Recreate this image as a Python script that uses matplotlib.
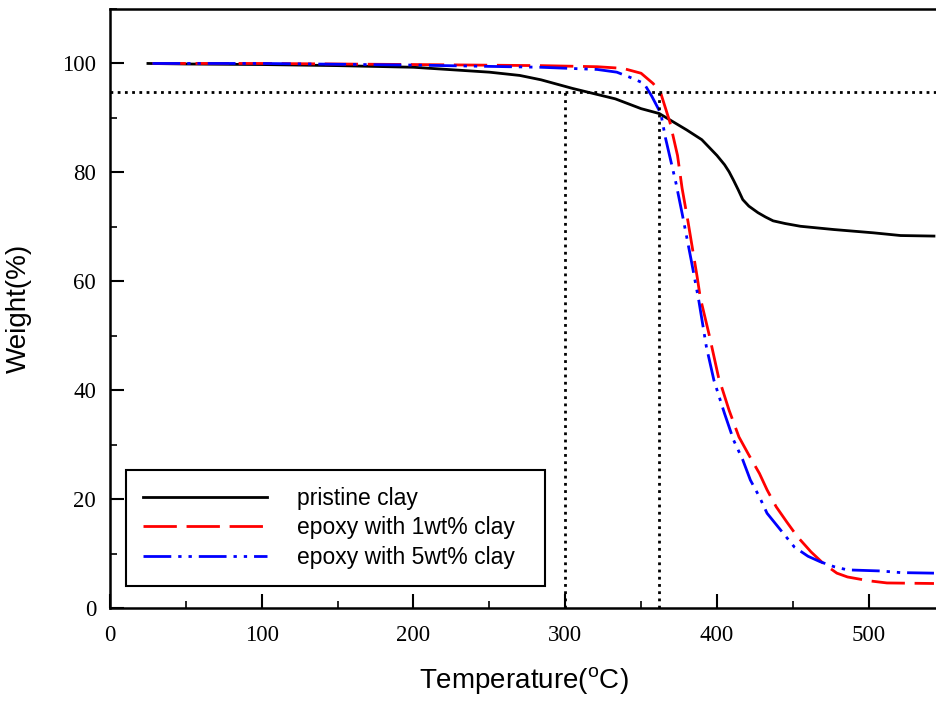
import numpy as np
import matplotlib
matplotlib.use("Agg")
import matplotlib.pyplot as plt
from matplotlib.ticker import MultipleLocator

# TGA curves
pristine_T = [25, 50, 100, 150, 200, 250, 270, 284, 305, 333, 350, 362, 380, 390, 400,
              405, 408, 411, 414, 417, 421, 424, 427, 432, 437, 445, 455, 477, 503,
              521, 543]
pristine_W = [100, 99.9, 99.8, 99.6, 99.3, 98.4, 97.8, 97.0, 95.4, 93.5, 91.7, 90.8,
              87.8, 86.0, 83.1, 81.4, 80.1, 78.5, 76.8, 75.0, 73.8, 73.2, 72.6, 71.8,
              71.1, 70.6, 70.1, 69.5, 68.9, 68.4, 68.3]

epoxy1_T = [28, 100, 200, 284, 321, 338, 350, 358, 363, 369, 374, 377, 381, 387,
            389, 395, 401, 408, 414.5, 421, 428, 433, 439, 446, 453, 462, 470, 479,
            486, 500, 512, 543]
epoxy1_W = [100, 100, 99.8, 99.6, 99.4, 99.1, 98.2, 96.3, 94.5, 89.2, 83.1, 77.1,
            70.8, 60.7, 57.0, 50.0, 42.4, 36.3, 31.4, 28.1, 24.7, 21.7, 18.6, 15.8,
            13.1, 10.3, 8.2, 6.4, 5.7, 5.0, 4.6, 4.5]

epoxy5_T = [28, 100, 200, 284, 321, 334, 345, 352, 357, 363, 366, 369, 373, 377,
            383, 388, 393, 398, 405, 411, 417, 422, 428, 433, 442, 451, 460, 468,
            477, 486, 508, 521, 543]
epoxy5_W = [100, 100, 99.7, 99.3, 98.9, 98.4, 97.2, 96.3, 94.0, 90.8, 86.4, 82.8,
            78.0, 72.5, 63.9, 56.5, 48.0, 41.8, 35.7, 30.8, 27.2, 23.5, 20.4, 17.4,
            14.3, 11.2, 9.5, 8.5, 7.6, 7.0, 6.8, 6.5, 6.4]

# guide lines
ref_weight = 94.7
ref_temps = [300, 362]

plt.rcParams['mathtext.fontset'] = 'custom'
plt.rcParams['mathtext.rm'] = 'Liberation Sans'

fig = plt.figure(figsize=(9.37, 7.04), dpi=100)
ax = fig.add_axes([110 / 937, 96 / 704, 827 / 937, 599 / 704])

ax.plot(pristine_T, pristine_W, color='black', lw=2.0, label='pristine clay')
ax.plot(epoxy1_T, epoxy1_W, color='red', lw=2.0, dashes=(12, 3.5),
        label='epoxy with 1wt% clay')
ax.plot(epoxy5_T, epoxy5_W, color='blue', lw=2.0,
        dashes=(10, 2.5, 1.2, 2.5, 1.2, 2.5), label='epoxy with 5wt% clay')

# dotted guides
ax.axhline(ref_weight, color='black', lw=2.0, ls=(0, (1, 1.6)))
for t in ref_temps:
    ax.plot([t, t], [0, ref_weight], color='black', lw=2.0, ls=(0, (1, 1.6)))

ax.set_xlim(0, 545)
ax.set_ylim(0, 110)
ax.xaxis.set_major_locator(MultipleLocator(100))
ax.xaxis.set_minor_locator(MultipleLocator(50))
ax.yaxis.set_major_locator(MultipleLocator(20))
ax.yaxis.set_minor_locator(MultipleLocator(10))
ax.set_yticks([0, 20, 40, 60, 80, 100])

ax.tick_params(which='major', direction='in', length=10, width=1.5, pad=12)
ax.tick_params(which='minor', direction='in', length=5, width=1.2)
ax.tick_params(axis='y', pad=10)
for lab in ax.get_xticklabels() + ax.get_yticklabels():
    lab.set_fontfamily('Liberation Serif')
    lab.set_fontsize(16.5)

ax.spines['right'].set_visible(False)
for s in ['left', 'bottom', 'top']:
    ax.spines[s].set_linewidth(1.8)

ax.set_xlabel(r'Temperature($^\mathrm{o}$C)', fontfamily='Liberation Sans',
              fontsize=20, labelpad=14)
ax.set_ylabel('Weight(%)', fontfamily='Liberation Sans', fontsize=20, labelpad=22)

leg = ax.legend(loc='lower left', bbox_to_anchor=(0.0193, 0.0367, 0.507, 0.2),
                mode='expand', borderaxespad=0, fancybox=False, framealpha=1,
                edgecolor='black', handlelength=5.4, handletextpad=1.3,
                borderpad=0.75, labelspacing=0.28,
                prop={'family': 'Liberation Sans', 'size': 16.5})
leg.get_frame().set_linewidth(1.5)

plt.savefig('out.png', dpi=100)
